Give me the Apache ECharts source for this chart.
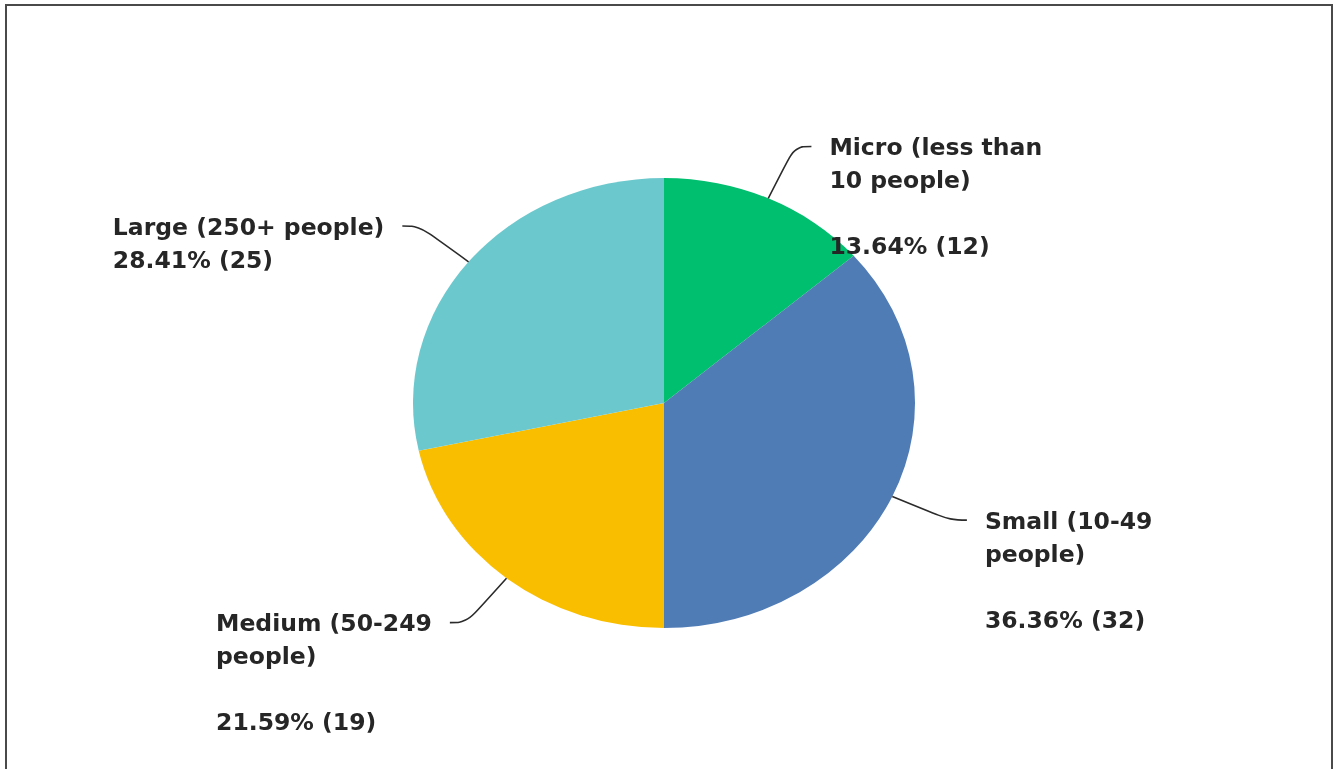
<!DOCTYPE html>
<html>
<head>
<meta charset="utf-8">
<script src="https://cdn.jsdelivr.net/npm/echarts@6/dist/echarts.min.js"></script>
<style>
html, body { margin: 0; padding: 0; background: #fff; }
#frame { position: absolute; left: 5px; top: 4px; width: 1328px; height: 800px; border: 2px solid #4a4a4a; border-bottom: none; box-sizing: border-box; }
#pie, #labels { position: absolute; left: 0; top: 0; width: 1335px; height: 769px; }
</style>
</head>
<body>
<div id="frame"></div>
<div id="pie"></div>
<div id="labels"></div>
<script>
// company size answers
var categories = ['Micro (less than\n10 people)', 'Small (10-49\npeople)', 'Medium (50-249\npeople)', 'Large (250+ people)'];
var counts = [12, 32, 19, 25];
var colors = ['#00bf6f', '#507cb6', '#f9be00', '#6bc8cd'];

// the pie in the picture is a bit wider than tall
var CX = 664, CY = 403, R = 225, SX = 251 / 225;

var data = categories.map(function (name, i) {
  return { name: name, value: counts[i] };
});

var pieEl = document.getElementById('pie');
pieEl.style.transformOrigin = CX + 'px ' + CY + 'px';
pieEl.style.transform = 'scaleX(' + SX + ')';

var myChart = echarts.init(pieEl, null, { renderer: 'svg' });
var option = {
  animation: false,
  color: colors,
  series: [
    {
      type: 'pie',
      center: [CX, CY],
      radius: R,
      startAngle: 90,
      silent: true,
      label: { show: false },
      labelLine: { show: false },
      data: data
    }
  ]
};
myChart.setOption(option);

// labels on a second layer so the text is not stretched
var myChart1 = echarts.init(document.getElementById('labels'));
var option1 = {
  animation: false,
  series: [
    {
      type: 'pie',
      center: [CX, CY],
      radius: R,
      startAngle: 90,
      silent: true,
      avoidLabelOverlap: false,
      itemStyle: { color: 'rgba(0,0,0,0)' },
      label: {
        show: true,
        fontFamily: 'DejaVu Sans',
        fontWeight: 'bold',
        fontSize: 23.5,
        lineHeight: 33,
        color: '#262626',
        formatter: function (p) {
          var sep = p.name.indexOf('\n') >= 0 ? '\n\n' : '\n';
          return p.name + sep + p.percent.toFixed(2) + '% (' + p.value + ')';
        }
      },
      labelLine: {
        show: true,
        length: 57,
        length2: 15,
        smooth: 0.4,
        lineStyle: { color: '#2b2b2b', width: 1.6 }
      },
      labelLayout: function (p) {
        var pts = p.labelLinePoints.map(function (pt) {
          return [CX + (pt[0] - CX) * SX, pt[1]];
        });
        var end = pts[pts.length - 1];
        var right = end[0] > CX;
        return {
          x: right ? end[0] + 18 : end[0] - 18 - p.labelRect.width,
          y: end[1] - 14,
          align: 'left',
          verticalAlign: 'top',
          labelLinePoints: pts
        };
      },
      data: data
    }
  ]
};
myChart1.setOption(option1);
</script>
</body>
</html>
